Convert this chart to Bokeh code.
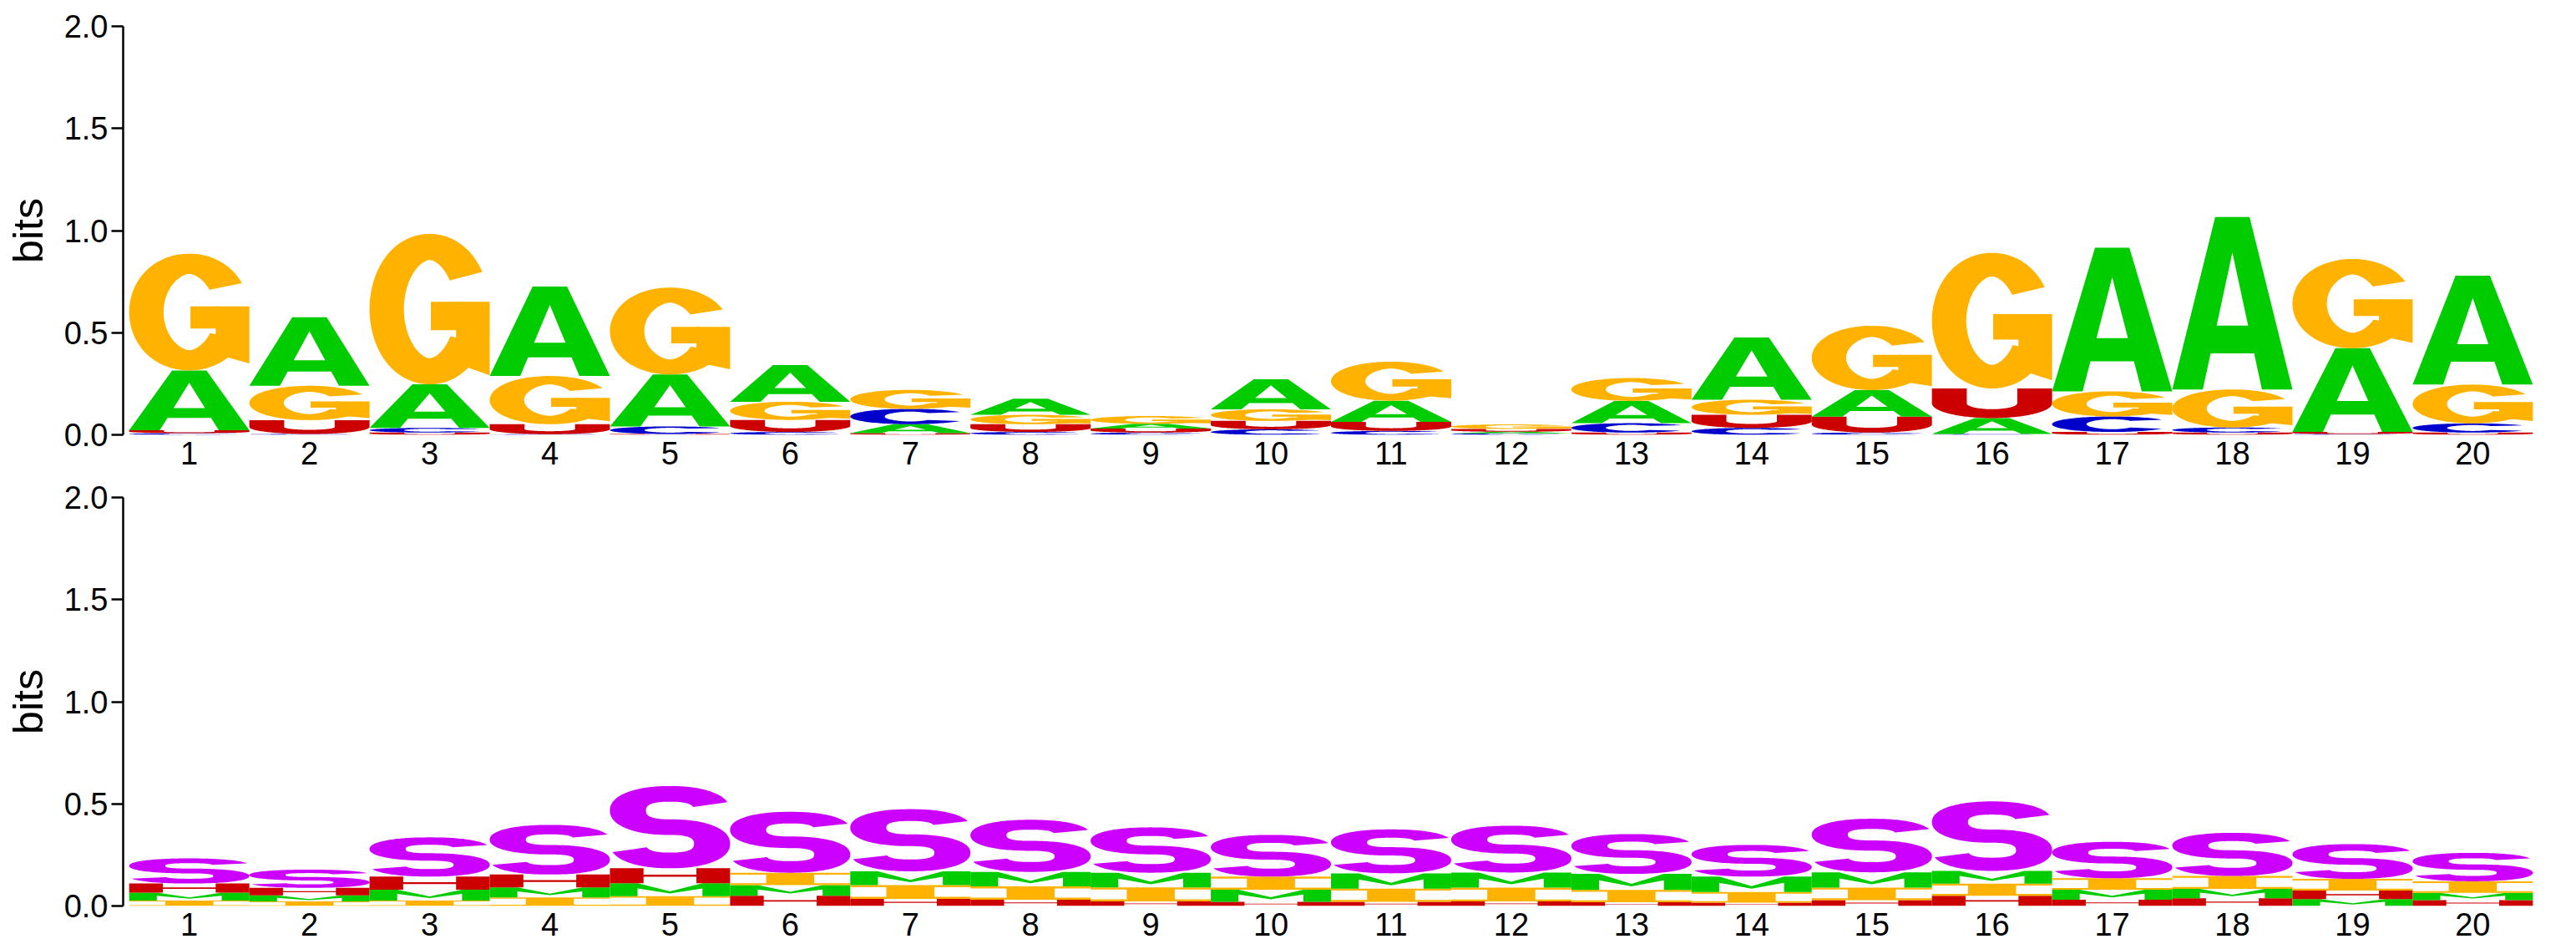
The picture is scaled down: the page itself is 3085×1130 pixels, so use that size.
import numpy as np
from bokeh.plotting import figure
from bokeh.layouts import column
from bokeh.models import FixedTicker, NumeralTickFormatter, Range1d, ColumnDataSource
from bokeh.embed import file_html
from bokeh.resources import INLINE

# ---------------- data ----------------
positions = list(range(1, 21))
tick_labels = [str(i) for i in positions]

# panel 1: nucleotide information (bits)
nuc_A = [0.293, 0.336, 0.213, 0.438, 0.254, 0.180, 0.044, 0.079, 0.023, 0.147,
         0.104, 0.008, 0.109, 0.304, 0.130, 0.078, 0.703, 0.844, 0.410, 0.533]
nuc_C = [0.008, 0.004, 0.023, 0.003, 0.037, 0.014, 0.075, 0.014, 0.011, 0.027,
         0.019, 0.007, 0.046, 0.034, 0.011, 0.004, 0.076, 0.025, 0.004, 0.045]
nuc_G = [0.572, 0.168, 0.737, 0.236, 0.426, 0.089, 0.093, 0.046, 0.038, 0.057,
         0.191, 0.022, 0.112, 0.074, 0.315, 0.664, 0.123, 0.186, 0.437, 0.190]
nuc_U = [0.014, 0.068, 0.011, 0.049, 0.004, 0.059, 0.008, 0.038, 0.020, 0.041,
         0.044, 0.014, 0.011, 0.064, 0.078, 0.145, 0.014, 0.011, 0.010, 0.011]

# panel 2: structure context information (bits)
str_S = [0.123, 0.089, 0.192, 0.243, 0.402, 0.298, 0.304, 0.255, 0.222, 0.204,
         0.215, 0.229, 0.195, 0.155, 0.262, 0.340, 0.178, 0.211, 0.170, 0.139]
str_M = [0.038, 0.030, 0.053, 0.049, 0.063, 0.052, 0.068, 0.071, 0.072, 0.060,
         0.075, 0.074, 0.078, 0.076, 0.075, 0.063, 0.049, 0.046, 0.034, 0.035]
str_I = [0.027, 0.022, 0.027, 0.042, 0.048, 0.061, 0.067, 0.065, 0.069, 0.064,
         0.065, 0.068, 0.061, 0.052, 0.061, 0.059, 0.056, 0.063, 0.057, 0.057]
str_H = [0.045, 0.037, 0.064, 0.063, 0.074, 0.050, 0.035, 0.031, 0.022, 0.020,
         0.020, 0.022, 0.018, 0.016, 0.029, 0.050, 0.031, 0.038, 0.042, 0.029]

panel1 = {"A": nuc_A, "C": nuc_C, "G": nuc_G, "U": nuc_U}
panel2 = {"S": str_S, "M": str_M, "I": str_I, "H": str_H}

colors = {"A": "#00CC00", "C": "#0000CC", "G": "#FFB300", "U": "#CC0000",
          "S": "#CC00FF", "M": "#00CC00", "I": "#FFB300", "H": "#CC0000"}

FONT = "Liberation Sans"

# ---------------- letter shapes in a unit box ----------------
def se_pts(cx, cy, rx, ry, t0, t1, n=2.0, num=120):
    t = np.radians(np.linspace(t0, t1, num))
    c, s = np.cos(t), np.sin(t)
    return (cx + rx * np.sign(c) * np.abs(c) ** (2.0 / n),
            cy + ry * np.sign(s) * np.abs(s) ** (2.0 / n))


def stroke(x, y, tx, ty):
    x = np.asarray(x, float)
    y = np.asarray(y, float)
    dx, dy = np.gradient(x), np.gradient(y)
    ux, uy = dx / tx, dy / ty
    L = np.hypot(ux, uy)
    L[L == 0] = 1.0
    ox, oy = -uy / L * tx, ux / L * ty
    return (np.concatenate([x + ox, (x - ox)[::-1]]),
            np.concatenate([y + oy, (y - oy)[::-1]]))


def poly(pts):
    a = np.asarray(pts, float)
    return (a[:, 0], a[:, 1])


def make_templates():
    T = {}
    # A
    outer = poly([(0, 0), (0.357, 1), (0.643, 1), (1, 0), (0.746, 0), (0.681, 0.209),
                  (0.319, 0.209), (0.254, 0)])
    hole = poly([(0.369, 0.371), (0.631, 0.371), (0.5, 0.795)])
    T["A"] = [(outer, [hole])]
    # C
    tx, ty = 0.143, 0.087
    sx, sy = se_pts(0.5, 0.5, 0.5 - tx, 0.5 - ty, 38, 322)
    T["C"] = [(stroke(sx, sy, tx, ty), [])]
    # G
    sx, sy = se_pts(0.5, 0.5, 0.5 - tx, 0.5 - ty, 32, 330)
    T["G"] = [(stroke(sx, sy, tx, ty), []),
              (poly([(0.72, 0.14), (1.0, 0.06), (1.0, 0.548), (0.72, 0.548)]), []),
              (poly([(0.51, 0.36), (0.75, 0.36), (0.75, 0.548), (0.51, 0.548)]), [])]
    # U
    tx, ty = 0.145, 0.15
    bx, by = se_pts(0.5, 0.5, 0.5 - tx, 0.5 - ty, 180, 360, n=2.0)
    lx = np.full(20, tx); ly = np.linspace(1.0, 0.5, 20)
    rx_ = np.full(20, 1 - tx); ry_ = np.linspace(0.5, 1.0, 20)
    ux = np.concatenate([lx, bx[1:-1], rx_])
    uy = np.concatenate([ly, by[1:-1], ry_])
    T["U"] = [(stroke(ux, uy, tx, ty), [])]
    # S
    tx, ty = 0.15, 0.095
    ry = (1 - 2 * ty) / 4
    ax_, ay_ = se_pts(0.5, 0.5 + ry, 0.5 - tx, ry, 18, 270, n=2.3)
    bx_, by_ = se_pts(0.5, 0.5 - ry, 0.5 - tx, ry, 90, -162, n=2.3)
    sx = np.concatenate([ax_, bx_[1:]])
    sy = np.concatenate([ay_, by_[1:]])
    T["S"] = [(stroke(sx, sy, tx, ty), [])]
    # M
    T["M"] = [(poly([(0, 0), (0, 1), (0.23, 1), (0.5, 0.38), (0.77, 1), (1, 1), (1, 0),
                     (0.77, 0), (0.77, 0.6), (0.5, 0.22), (0.23, 0.6), (0.23, 0)]), [])]
    # I
    T["I"] = [(poly([(0, 0), (1, 0), (1, 0.15), (0.7, 0.15), (0.7, 0.85), (1, 0.85),
                     (1, 1), (0, 1), (0, 0.85), (0.3, 0.85), (0.3, 0.15), (0, 0.15)]), [])]
    # H
    T["H"] = [(poly([(0, 0), (0.28, 0), (0.28, 0.43), (0.72, 0.43), (0.72, 0), (1, 0),
                     (1, 1), (0.72, 1), (0.72, 0.57), (0.28, 0.57), (0.28, 1), (0, 1)]), [])]
    return T


TEMPLATES = make_templates()


def logo_source(table):
    xs, ys, cs = [], [], []
    letters = list(table.keys())
    for i, pos in enumerate(positions):
        heights = {L: table[L][i] for L in letters}
        y0 = 0.0
        for L in sorted(letters, key=lambda k: heights[k]):
            h = heights[L]
            for (ox, oy), holes in TEMPLATES[L]:
                rings_x = [list(pos - 0.5 + ox)] + [list(pos - 0.5 + hx) for hx, hy in holes]
                rings_y = [list(y0 + oy * h)] + [list(y0 + hy * h) for hx, hy in holes]
                xs.append([rings_x])
                ys.append([rings_y])
                cs.append(colors[L])
            y0 += h
    return ColumnDataSource(dict(xs=xs, ys=ys, color=cs))


def make_panel(table, top_border, bottom_border):
    p = figure(frame_width=2893, frame_height=489, output_backend="svg",
               toolbar_location=None, x_range=Range1d(0.45, 20.55), y_range=Range1d(0, 2),
               min_border_left=147, min_border_right=45,
               min_border_top=top_border, min_border_bottom=bottom_border)
    p.outline_line_color = None
    p.grid.visible = False
    p.background_fill_color = "white"
    p.border_fill_color = "white"
    p.multi_polygons(xs="xs", ys="ys", fill_color="color", line_color=None,
                     source=logo_source(table))

    ya = p.yaxis[0]
    ya.ticker = FixedTicker(ticks=[0, 0.5, 1.0, 1.5, 2.0])
    ya.formatter = NumeralTickFormatter(format="0.0")
    ya.axis_label = "bits"
    ya.axis_label_text_font = FONT
    ya.axis_label_text_font_style = "normal"
    ya.axis_label_text_font_size = "50px"
    ya.axis_label_text_color = "black"
    ya.axis_label_standoff = 12
    ya.major_label_text_font = FONT
    ya.major_label_text_font_size = "38px"
    ya.major_label_text_color = "black"
    ya.axis_line_width = 2.5
    ya.axis_line_color = "black"
    ya.major_tick_line_width = 2.5
    ya.major_tick_line_color = "black"
    ya.major_tick_out = 14
    ya.major_tick_in = 0
    ya.minor_tick_line_color = None
    ya.major_label_standoff = 4

    xa = p.xaxis[0]
    xa.ticker = FixedTicker(ticks=positions)
    xa.major_label_overrides = {pos: lab for pos, lab in zip(positions, tick_labels)}
    xa.axis_line_color = None
    xa.major_tick_line_color = None
    xa.minor_tick_line_color = None
    xa.major_label_text_font = FONT
    xa.major_label_text_font_size = "38px"
    xa.major_label_text_color = "black"
    xa.major_label_standoff = 2
    return p


p1 = make_panel(panel1, 31, 45)
p2 = make_panel(panel2, 30, 45)
layout = column(p1, p2, spacing=0)

open("out.html", "w").write(file_html(layout, INLINE))
